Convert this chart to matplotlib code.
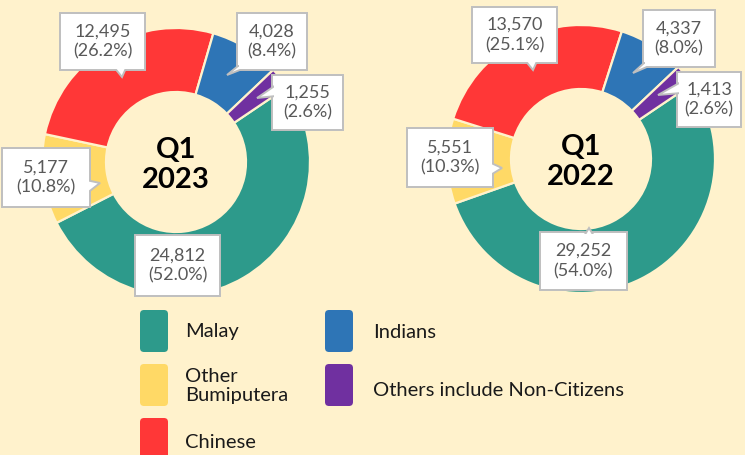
import matplotlib.pyplot as plt
from matplotlib.patches import FancyBboxPatch, Polygon, Rectangle

plt.rcParams["font.family"] = ["Lato", "DejaVu Sans"]

# data
groups = ["Malay", "Other Bumiputera", "Chinese", "Indians",
          "Others include Non-Citizens"]
legend_labels = ["Malay", "Other\nBumiputera", "Chinese", "Indians",
                 "Others include Non-Citizens"]
q1_2023 = [24812, 5177, 12495, 4028, 1255]
q1_2022 = [29252, 5551, 13570, 4337, 1413]
# shares as printed on the chart (they come from unrounded totals)
pct_2023 = [52.0, 10.8, 26.2, 8.4, 2.6]
pct_2022 = [54.0, 10.3, 25.1, 8.0, 2.6]
period_labels = ["Q1\n2023", "Q1\n2022"]

# style
colors = ["#2D9A8B", "#FFD966", "#FF3737", "#2E75B6", "#7030A0"]
BG = "#FFF2CC"
EDGE = "#BFBFBF"
LABEL_COLOR = "#595959"

# layout, in pixels measured from the top-left corner
W, H = 745, 455
R_OUT, RING = 134, 64
START_ANGLE = 34
centers = [(176, 162), (581, 159)]

# callout boxes (x0, y0, x1, y1) and pointers (tip, edge, from, to)
boxes = [
    [(135, 235, 220, 296), (2, 148, 90, 207), (60, 13, 145, 70),
     (237, 13, 307, 70), (272, 75, 343, 130)],
    [(540, 232, 627, 290), (407, 128, 493, 187), (472, 7, 557, 63),
     (643, 10, 715, 67), (677, 72, 741, 127)],
]
pointers = [
    [None, ((100, 183), "right", 180, 194), ((122, 77), "bottom", 113, 127),
     ((227, 75), "bottom", 238, 250), ((257, 98), "left", 85, 96)],
    [((589, 228), "top", 584, 594), ((502, 168), "right", 162, 176),
     ((533, 70), "bottom", 524, 538), ((633, 73), "bottom", 644, 656),
     ((658, 95), "left", 82, 93)],
]

legend_patch = (28, 42)
legend_slots = [(140, 310), (140, 364), (140, 418), (325, 310), (325, 364)]
legend_text_x = [185, 185, 185, 373, 373]
legend_text_y = [332, 386, 442, 332, 390]


def yy(y):
    return H - y


def callout(ax, box, ptr, text):
    x0, y0, x1, y1 = box
    ax.add_patch(Rectangle((x0, yy(y1)), x1 - x0, y1 - y0,
                           fc="white", ec=EDGE, lw=1.4, zorder=5))
    if ptr is not None:
        tip, edge, a, b = ptr
        inset = 4
        if edge == "left":
            base = [(x0 + inset, a), (x0 + inset, b)]
        elif edge == "right":
            base = [(x1 - inset, a), (x1 - inset, b)]
        elif edge == "top":
            base = [(a, y0 + inset), (b, y0 + inset)]
        else:
            base = [(a, y1 - inset), (b, y1 - inset)]
        pts = [(base[0][0], yy(base[0][1])), (tip[0], yy(tip[1])),
               (base[1][0], yy(base[1][1]))]
        ax.add_patch(Polygon(pts, closed=True, fc="white", ec=EDGE,
                             lw=1.4, zorder=6))
        ax.add_patch(Rectangle((x0 + 1.5, yy(y1) + 1.5), x1 - x0 - 3,
                               y1 - y0 - 3, fc="white", ec="none", zorder=7))
    ax.text((x0 + x1) / 2, yy((y0 + y1) / 2), text, ha="center",
            va="center", fontsize=13, color=LABEL_COLOR, linespacing=1.3,
            zorder=8)


fig = plt.figure(figsize=(W / 100, H / 100), dpi=100, facecolor=BG)
ax = fig.add_axes([0, 0, 1, 1])
ax.set_facecolor(BG)

for values, shares, (cx, cy), period, chart_boxes, chart_ptrs in zip(
        [q1_2023, q1_2022], [pct_2023, pct_2022], centers, period_labels,
        boxes, pointers):
    ax.pie(values, colors=colors, center=(cx, yy(cy)), radius=R_OUT,
           startangle=START_ANGLE, counterclock=False,
           wedgeprops=dict(width=RING, edgecolor=BG, linewidth=1.6))
    ax.text(cx, yy(cy + 3), period, ha="center", va="center",
            fontsize=21, fontweight="bold", color="black", linespacing=1.15)

    for v, p, box, ptr in zip(values, shares, chart_boxes, chart_ptrs):
        callout(ax, box, ptr, f"{v:,}\n({p:.1f}%)")

# legend
pw, ph = legend_patch
for color, label, (lx, ly), tx, ty in zip(colors, legend_labels,
                                          legend_slots, legend_text_x,
                                          legend_text_y):
    r = 4
    ax.add_patch(FancyBboxPatch((lx + r, yy(ly + ph) + r), pw - 2 * r,
                                ph - 2 * r, boxstyle=f"round,pad={r}",
                                fc=color, ec="none"))
    ax.text(tx, yy(ty), label, ha="left", va="center", fontsize=14.5,
            color="#1A1A1A", linespacing=1.15)

ax.set_xlim(0, W)
ax.set_ylim(0, H)
ax.set_aspect("equal")
ax.axis("off")

fig.savefig("out.png", dpi=100, facecolor=BG)
